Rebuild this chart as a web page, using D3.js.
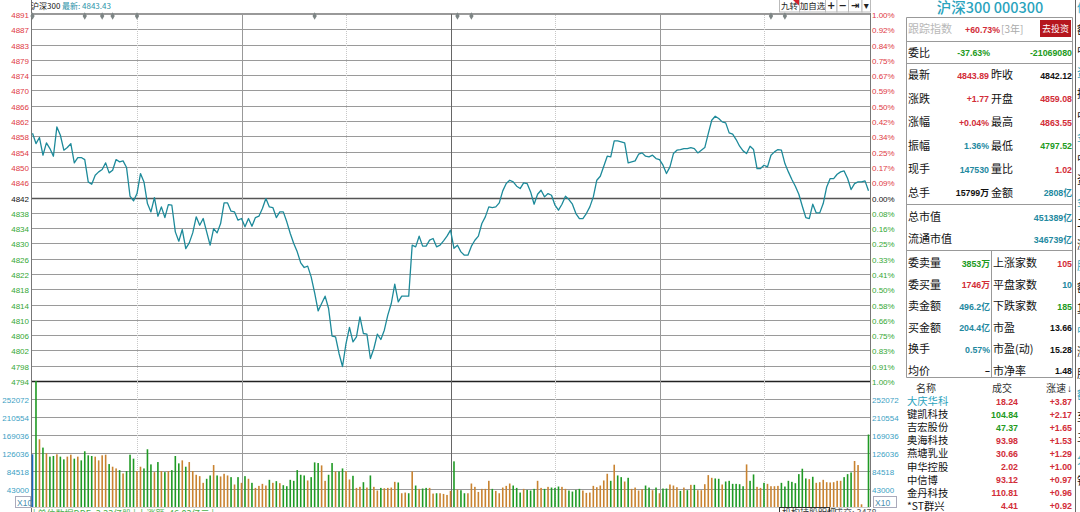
<!DOCTYPE html>
<html>
<head>
<meta charset="utf-8">
<script src="https://cdn.jsdelivr.net/npm/d3@7"></script>
<style>
  body { margin: 0; background: #fff; overflow: hidden; }
  svg { display: block; font-family: "Liberation Sans", "Noto Sans CJK SC", sans-serif; }
</style>
</head>
<body>
<svg id="chart" width="1080" height="512"></svg>
<script>
// === Data ===
const prevClose = 4842.12;
const lastQuote = '4843.43';

const priceLabels = ['4891', '4887', '4883', '4879', '4874', '4870', '4866', '4862', '4858', '4854', '4850', '4846',
    '4842', '4838', '4834', '4830', '4826', '4822', '4818', '4814', '4810', '4806', '4802', '4798', '4794'];
const pctLabels = ['1.00%', '0.92%', '0.84%', '0.75%', '0.67%', '0.59%', '0.50%', '0.42%', '0.34%', '0.25%', '0.17%', '0.09%',
    '0.00%', '0.08%', '0.16%', '0.25%', '0.33%', '0.41%', '0.50%', '0.58%', '0.66%', '0.75%', '0.83%', '0.91%', '1.00%'];
const volTicks = [252072, 210554, 169036, 126036, 84518, 43000];
const volTop = 294000;

// one point per minute, 9:30 .. 11:30 / 13:00 .. 15:00
const prices = [
    4859.08, 4856.35, 4857.94, 4853.28, 4856.53, 4855.04, 4853.01, 4860.75, 4858.55, 4854.60,
    4855.30, 4856.35, 4851.25, 4852.66, 4852.66, 4852.13, 4846.24, 4845.63, 4848.00, 4848.88,
    4849.49, 4851.25, 4848.62, 4849.32, 4852.13, 4851.52, 4851.78, 4850.02, 4842.46, 4841.23,
    4843.16, 4848.44, 4846.24, 4840.52, 4838.32, 4842.11, 4837.18, 4839.64, 4836.83, 4840.26,
    4840.08, 4833.05, 4830.59, 4833.66, 4828.65, 4830.15, 4832.78, 4837.01, 4834.81, 4836.57,
    4833.05, 4829.53, 4833.93, 4832.78, 4835.25, 4840.70, 4840.70, 4838.50, 4838.32, 4836.13,
    4836.57, 4834.37, 4836.57, 4834.54, 4836.83, 4837.18, 4839.20, 4841.84, 4839.64, 4839.47,
    4836.83, 4838.32, 4838.32, 4835.70, 4832.62, 4829.98, 4827.78, 4824.88, 4823.65, 4824.00,
    4821.18, 4816.96, 4812.21, 4814.15, 4816.08, 4812.83, 4805.53, 4805.35, 4800.96, 4797.52,
    4803.59, 4807.82, 4804.03, 4805.35, 4810.63, 4806.23, 4806.06, 4799.64, 4802.28, 4806.06,
    4804.65, 4807.11, 4811.07, 4814.15, 4819.25, 4814.59, 4816.08, 4816.08, 4816.08, 4829.54,
    4829.10, 4831.91, 4829.28, 4829.28, 4830.86, 4831.30, 4829.10, 4829.54, 4830.68, 4831.91,
    4833.50, 4828.70, 4829.53, 4827.77, 4826.89, 4826.89, 4829.27, 4830.85, 4831.91, 4835.25,
    4837.01, 4839.65, 4839.47, 4839.65, 4840.70, 4843.87, 4845.80, 4846.68, 4846.24, 4845.10,
    4844.48, 4845.98, 4845.80, 4843.60, 4840.35, 4842.99, 4844.04, 4842.28, 4843.16, 4842.72,
    4840.09, 4838.77, 4840.35, 4842.46, 4841.58, 4840.35, 4837.89, 4836.57, 4836.57, 4837.89,
    4839.65, 4842.28, 4846.68, 4847.74, 4850.38, 4853.01, 4852.84, 4857.06, 4857.06, 4856.80,
    4856.53, 4851.26, 4851.52, 4851.78, 4853.54, 4853.89, 4853.01, 4852.84, 4853.28, 4852.40,
    4852.13, 4850.64, 4848.44, 4850.20, 4853.72, 4854.60, 4854.77, 4855.04, 4855.04, 4855.30,
    4855.04, 4853.89, 4854.60, 4855.30, 4858.99, 4862.51, 4863.55, 4862.95, 4862.07, 4861.81,
    4859.17, 4858.82, 4857.41, 4855.65, 4854.42, 4853.72, 4855.65, 4854.77, 4849.76, 4849.76,
    4850.64, 4850.20, 4853.28, 4854.16, 4854.77, 4854.60, 4851.08, 4848.88, 4846.86, 4845.10,
    4842.99, 4839.82, 4836.83, 4836.57, 4840.35, 4838.06, 4838.06, 4840.53, 4844.92, 4847.12,
    4847.12, 4848.26, 4848.88, 4849.14, 4847.12, 4844.22, 4845.80, 4846.24, 4846.24, 4846.51,
    4843.89
];

const volumes = [
    122900, 294000, 158000, 138600, 125300, 117500, 119000, 123000, 117500, 111200,
    117500, 122100, 112800, 117500, 108800, 130000, 120600, 119000, 117500, 108800,
    120600, 122100, 100200, 94000, 90000, 86100, 78300, 83800, 122100, 112800,
    83800, 94000, 90000, 134700, 99400, 81400, 104900, 83800, 81400, 83800,
    86100, 119000, 101800, 108800, 94000, 104900, 83800, 75200, 72000, 56400,
    65800, 73600, 97900, 73600, 71300, 77500, 73600, 69700, 52500, 69700,
    56400, 72000, 65800, 56400, 44600, 49300, 54000, 50100, 63400, 56400,
    60300, 55600, 50900, 48500, 63400, 61100, 86100, 75200, 73600, 61900,
    69700, 104100, 102600, 97100, 61100, 75200, 102600, 83000, 83000, 90000,
    83800, 64200, 72800, 44600, 47000, 57900, 45400, 73600, 47000, 38400,
    44600, 43800, 44600, 45400, 58700, 57200, 32100, 33700, 32100, 83000,
    50100, 42300, 43100, 44600, 44600, 31300, 32100, 32100, 30500, 28200,
    37600, 106500, 40700, 39100, 32100, 32100, 54800, 47000, 35200, 42300,
    42300, 61100, 42300, 37600, 32100, 45400, 49300, 54800, 50100, 44600,
    33700, 42300, 39900, 38400, 42300, 61100, 44600, 42300, 47000, 45400,
    44600, 47800, 47000, 42300, 38400, 36000, 39900, 42300, 38400, 32900,
    33700, 49300, 46200, 50100, 61900, 77500, 61100, 98700, 73600, 69700,
    59500, 68100, 42300, 45400, 38400, 41500, 50100, 45400, 39200, 45400,
    32100, 43100, 43100, 52500, 50100, 46200, 37600, 45400, 39200, 51700,
    51700, 39200, 39200, 53200, 74400, 68100, 66600, 65800, 52500, 59500,
    61100, 54000, 54000, 53200, 48500, 99400, 61100, 76000, 47000, 44600,
    56400, 54000, 48500, 48500, 49300, 56400, 47800, 61100, 58700, 55600,
    76700, 89300, 66600, 65000, 70500, 56400, 57900, 63400, 57900, 57200,
    57900, 61100, 61100, 69700, 76700, 80600, 107300, 97900, 6300, 0,
    169100
];

// b = opening auction, o = up minute, g = down minute
const volSide = ('b' +
    'gogoggoggo' + 'ogoggggooo' + 'ogoogogggo' + 'ogggogogog' + 'ggogooooog' + 'gogooogogo' +
    'gogoooogog' + 'ogggggggog' + 'ggooggoggo' + 'ogoogogoog' + 'oooogoogog' + 'oggoogoooo' +
    'goggoooooo' + 'ogoooooggg' + 'ogggoogogg' + 'googgggooo' + 'ooooogoggo' + 'gooooggogo' +
    'ggooogogog' + 'oooooggogg' + 'ggggoggoog' + 'oooogggggg' + 'ggogoooooo' + 'oogggoooog').split('');

const newsMarks = [0, 15, 20, 23, 30, 81, 122, 126, 212, 216];
const timeGrid = [30, 60, 90, 120, 150, 180, 210];

const toolButtons = ['九转', '加自选', '+', '−', '⇥', '▾'];

const quoteRows = [
    ['最新', '4843.89', 'up', '昨收', '4842.12', 'flat'],
    ['涨跌', '+1.77', 'up', '开盘', '4859.08', 'up'],
    ['涨幅', '+0.04%', 'up', '最高', '4863.55', 'up'],
    ['振幅', '1.36%', 'info', '最低', '4797.52', 'down'],
    ['现手', '147530', 'info', '量比', '1.02', 'up'],
    ['总手', '15799万', 'flat', '金额', '2808亿', 'info']
];
const capRows = [['总市值', '451389亿'], ['流通市值', '346739亿']];
const bookRows = [
    ['委卖量', '3853万', 'down', '上涨家数', '105', 'up'],
    ['委买量', '1746万', 'up', '平盘家数', '10', 'info'],
    ['卖金额', '496.2亿', 'info', '下跌家数', '185', 'down'],
    ['买金额', '204.4亿', 'info', '市盈', '13.66', 'flat'],
    ['换手', '0.57%', 'info', '市盈(动)', '15.28', 'flat'],
    ['均价', '–', 'flat', '市净率', '1.48', 'flat']
];
const stockNames = ['大庆华科', '键凯科技', '吉宏股份', '奥海科技', '燕塘乳业', '申华控股', '中信博', '金丹科技', '*ST群兴'];
const stockPrices = ['18.24', '104.84', '47.37', '93.98', '30.66', '2.02', '93.12', '110.81', '4.41'];
const stockTone = ['up', 'down', 'down', 'up', 'up', 'up', 'up', 'up', 'up'];
const stockSpeed = ['+3.87', '+2.17', '+1.65', '+1.53', '+1.29', '+1.00', '+0.97', '+0.96', '+0.92'];

// === Colours ===
const RED = '#e03a44', GREEN = '#35a835', TEAL = '#2b92a8', VOLTXT = '#3c9fc4';
const tone = { up: '#d22d38', down: '#219a21', flat: '#111', info: '#23899f' };
const barColor = { o: '#c98330', g: '#1f9a24', b: '#1c6cc0' };

const svg = d3.select('#chart');
const CJK = '"Noto Sans CJK SC", sans-serif';

// === Scales ===
const L = 31, R = 870, volBase = 507;
const span = prevClose * 0.01;
const x = d3.scaleLinear().domain([0, prices.length - 1]).range([32.5, 868.5]);
const y = d3.scaleLinear().domain([prevClose - span, prevClose + span]).range([381, 14]);
const yv = d3.scaleLinear().domain([0, volTop]).range([volBase, 381]);
const crisp = v => Math.round(v) + 0.5;

// === Price grid + labels ===
const priceGrid = svg.append('g');
priceLabels.forEach((lab, k) => {
    const yy = crisp(y(prevClose + span * (12 - k) / 12));
    const col = k < 12 ? RED : (k === 12 ? '#111' : GREEN);
    const mid = k === 12, bottom = k === 24;
    priceGrid.append('line')
        .attr('x1', L).attr('x2', R).attr('y1', yy).attr('y2', yy)
        .attr('stroke', bottom ? '#222' : (mid ? '#555' : '#9a9a9a'))
        .attr('stroke-width', bottom || mid ? 1.6 : 1);
    priceGrid.append('text').attr('x', 29).attr('y', yy + 3)
        .attr('text-anchor', 'end').attr('font-size', 8).attr('fill', col).text(lab);
    priceGrid.append('text').attr('x', 872).attr('y', yy + 3)
        .attr('font-size', 8).attr('fill', col).text(pctLabels[k]);
});

// === Volume grid + labels ===
volTicks.forEach(v => {
    const yy = crisp(yv(v));
    svg.append('line').attr('x1', L).attr('x2', R).attr('y1', yy).attr('y2', yy)
        .attr('stroke', '#9a9a9a');
    svg.append('text').attr('x', 29).attr('y', yy + 3).attr('text-anchor', 'end')
        .attr('font-size', 8).attr('fill', VOLTXT).text(v);
    svg.append('text').attr('x', 872).attr('y', yy + 3)
        .attr('font-size', 8).attr('fill', VOLTXT).text(v);
});

// === Time separators ===
timeGrid.forEach(t => {
    const xx = crisp(x(t));
    const solid = t % 60 === 0;
    svg.append('line').attr('x1', xx).attr('x2', xx).attr('y1', 13).attr('y2', volBase)
        .attr('stroke', solid ? (t === 120 ? '#666' : '#999') : '#c8c8c8')
        .attr('stroke-dasharray', solid ? null : '1,1');
});

// frame
svg.append('line').attr('x1', L + 0.5).attr('x2', L + 0.5).attr('y1', 0).attr('y2', 512).attr('stroke', '#777');
svg.append('line').attr('x1', R + 0.5).attr('x2', R + 0.5).attr('y1', 13).attr('y2', volBase).attr('stroke', '#777');
svg.append('line').attr('x1', L).attr('x2', R).attr('y1', 13.5).attr('y2', 13.5).attr('stroke', '#999');
svg.append('line').attr('x1', L).attr('x2', R).attr('y1', volBase + 0.5).attr('y2', volBase + 0.5).attr('stroke', '#ccc');

// === Volume bars ===
svg.append('g').selectAll('rect')
    .data(volumes)
    .enter()
    .append('rect')
    .attr('x', (d, i) => x(i) - 0.8)
    .attr('width', 1.6)
    .attr('y', d => yv(d))
    .attr('height', d => volBase - yv(d))
    .attr('fill', (d, i) => barColor[volSide[i]] || barColor.o);

// === Price line ===
const line = d3.line().x((d, i) => x(i)).y(d => y(d));
svg.append('path').datum(prices)
    .attr('d', line)
    .attr('fill', 'none')
    .attr('stroke', '#1d8a9a')
    .attr('stroke-width', 1.3)
    .attr('stroke-linejoin', 'round');

// news markers on the top edge
svg.append('g').selectAll('path')
    .data(newsMarks)
    .enter()
    .append('path')
    .attr('d', d3.symbol(d3.symbolDiamond, 16))
    .attr('transform', d => `translate(${x(d)},16)`)
    .attr('fill', '#7d8585');

// header
svg.append('text').attr('x', 31).attr('y', 8.5).attr('font-size', 8).attr('fill', '#111')
    .attr('font-family', CJK).text('沪深300');
svg.append('text').attr('x', 62).attr('y', 8.5).attr('font-size', 8).attr('fill', TEAL)
    .attr('font-family', CJK).text('最新: ' + lastQuote);

// toolbar buttons
const btnW = [20, 26, 11.5, 11.5, 13.5, 8.5];
let bx = 779;
toolButtons.forEach((b, i) => {
    svg.append('rect').attr('x', bx + 0.5).attr('y', -0.5).attr('width', btnW[i]).attr('height', 12.5)
        .attr('fill', '#fff').attr('stroke', '#bbb');
    svg.append('text').attr('x', bx + btnW[i] / 2 + 0.5).attr('y', 9).attr('text-anchor', 'middle')
        .attr('font-size', i < 2 ? 8.5 : 10).attr('font-weight', i < 2 ? 400 : 700)
        .attr('font-family', i < 2 ? CJK : '"DejaVu Sans", sans-serif')
        .attr('fill', '#222').text(b);
    if (i === 0) {
        svg.append('path').attr('d', `M${bx + btnW[0] - 6},0 L${bx + btnW[0] + 0.5},0 L${bx + btnW[0] + 0.5},6 Z`)
            .attr('fill', '#d4202a');
    }
    bx += btnW[i];
});

// X10 boxes
[[15, 496, 15], [873, 496, 23]].forEach(([bx0, by0, w]) => {
    svg.append('rect').attr('x', bx0 + 0.5).attr('y', by0 + 0.5).attr('width', w).attr('height', 11)
        .attr('fill', '#fff').attr('stroke', '#aab');
    svg.append('text').attr('x', bx0 + 2).attr('y', by0 + 9.5).attr('font-size', 8.5)
        .attr('fill', '#4a8fb0').text('X10');
});

// bottom status line (mostly cut off by the window edge)
svg.append('text').attr('x', 33).attr('y', 517).attr('font-size', 9).attr('font-family', CJK)
    .attr('fill', '#4bb04b').text('| 单位数据DDE: 3.23亿股 | 上涨额: 46.03亿元 |');
svg.append('rect').attr('x', 779.5).attr('y', 507.5).attr('width', 50).attr('height', 10)
    .attr('fill', '#fff').attr('stroke', '#333');
svg.append('text').attr('x', 782).attr('y', 516).attr('font-size', 9).attr('font-family', CJK)
    .attr('fill', '#333').text('机构持股明细');
svg.append('text').attr('x', 834).attr('y', 516).attr('font-size', 9).attr('font-family', CJK)
    .attr('fill', '#555').text('成交: 3478');

// === Right quote panel ===
const panel = svg.append('g');
const PL = 906.5, PR = 1072.5, VM = 991.5;
const hline = (yy, x1 = PL, x2 = PR) => panel.append('line')
    .attr('x1', x1).attr('x2', x2).attr('y1', yy).attr('y2', yy).attr('stroke', '#999');

panel.append('text').attr('x', 990).attr('y', 13).attr('text-anchor', 'middle')
    .attr('font-family', CJK).attr('font-size', 14.5).attr('font-weight', 500)
    .attr('fill', '#2aa3bd').text('沪深300 000300');

hline(17.5); hline(41.5); hline(63.5); hline(204.5); hline(250.5); hline(377.5);
panel.append('line').attr('x1', PL).attr('x2', PL).attr('y1', 17.5).attr('y2', 377.5).attr('stroke', '#999');
panel.append('line').attr('x1', PR).attr('x2', PR).attr('y1', 17.5).attr('y2', 377.5).attr('stroke', '#999');
panel.append('line').attr('x1', VM).attr('x2', VM).attr('y1', 250.5).attr('y2', 377.5).attr('stroke', '#999');
svg.append('line').attr('x1', 1075.5).attr('x2', 1075.5).attr('y1', 0).attr('y2', 512).attr('stroke', '#666');

const label = (tx, yy, s, size = 11, col = '#111') => panel.append('text')
    .attr('x', tx).attr('y', yy).attr('font-family', CJK).attr('font-size', size).attr('fill', col).text(s);
const value = (tx, yy, s, col, anchor = 'end') => panel.append('text')
    .attr('x', tx).attr('y', yy).attr('text-anchor', anchor).attr('font-size', 8.8)
    .attr('font-weight', 700).attr('font-family', '"Liberation Sans", "Noto Sans CJK SC", sans-serif')
    .attr('fill', col).text(s);

// tracking row
label(908, 33, '跟踪指数', 11, '#b8b8b8');
value(1000, 33, '+60.73%', tone.up);
label(1001, 32.5, '[3年]', 10, '#aaa');
panel.append('rect').attr('x', 1040).attr('y', 20).attr('width', 31).attr('height', 17).attr('fill', '#b5161e');
panel.append('text').attr('x', 1055.5).attr('y', 32).attr('text-anchor', 'middle')
    .attr('font-family', CJK).attr('font-size', 9).attr('fill', '#fff').text('去投资');

// 委比
label(908, 56.5, '委比');
value(990, 56, '-37.63%', tone.down);
value(1072, 56, '-21069080', tone.down);

quoteRows.forEach((r, k) => {
    const yy = 79 + k * 23.5;
    label(908, yy, r[0]);
    value(989, yy - 0.5, r[1], tone[r[2]]);
    label(991, yy, r[3]);
    value(1072, yy - 0.5, r[4], tone[r[5]]);
});

capRows.forEach((r, k) => {
    const yy = 221 + k * 22;
    label(908, yy, r[0]);
    value(1072, yy - 0.5, r[1], tone.info);
});

bookRows.forEach((r, k) => {
    const yy = 267 + k * 21.5;
    label(908, yy, r[0]);
    value(990, yy - 0.5, r[1], tone[r[2]]);
    label(993, yy, r[3]);
    value(1072, yy - 0.5, r[4], tone[r[5]]);
});

// movers list
label(916, 392, '名称', 10, '#333');
label(992, 392, '成交', 10, '#333');
label(1046, 392, '涨速', 10, '#333');
panel.append('text').attr('x', 1067).attr('y', 392).attr('font-size', 10).attr('font-weight', 700)
    .attr('fill', '#222').text('↓');
stockNames.forEach((n, k) => {
    const yy = 405 + k * 13.1;
    label(907, yy, n, 10.3, k === 0 ? '#2aa3bd' : '#111');
    value(1018, yy - 0.5, stockPrices[k], tone[stockTone[k]]);
    value(1072, yy - 0.5, stockSpeed[k], tone.up);
});

// cut-off neighbour panel on the far right
const clip = svg.append('clipPath').attr('id', 'edge');
clip.append('rect').attr('x', 1076).attr('y', 0).attr('width', 4).attr('height', 512);
const edge = svg.append('g').attr('clip-path', 'url(#edge)');
['信', '额', '中', '资', '持', '中', '金', '中', '资', '金', '二', '涨', '股', '额', '其', '中', '涨', '股', '额', '至', '五', '分', '钟'].forEach((c, k) => {
    edge.append('text').attr('x', 1077).attr('y', 12 + k * 21.5).attr('font-family', CJK)
        .attr('font-size', 11).attr('fill', k % 3 === 0 ? '#2aa3bd' : '#111').text(c);
});
</script>
</body>
</html>
